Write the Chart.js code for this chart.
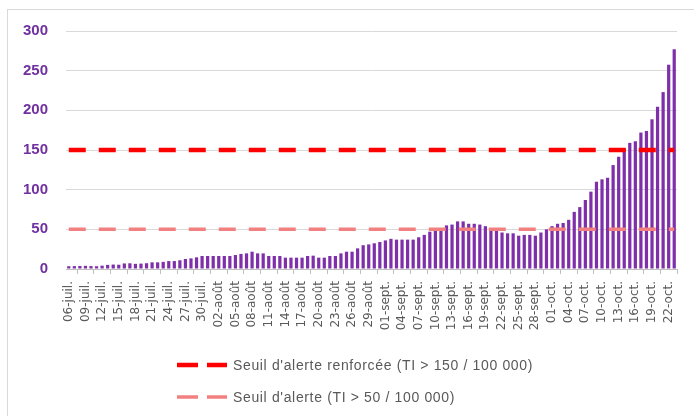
<!DOCTYPE html>
<html>
<head>
<script src="https://cdn.jsdelivr.net/npm/chart.js@4.4.1/dist/chart.umd.min.js"></script>
<style>
    body { margin: 0; background: #fff; }
    #frame {
        position: absolute; left: 7px; top: 9px;
        width: 700px; height: 420px;
        border: 1px solid #d9d9d9;
    }
    #chart-div {
        position: absolute; left: 0; top: 0;
        width: 694px; height: 416px;
    }
    .leg {
        position: absolute; left: 177px;
        font-family: "Liberation Sans", sans-serif;
        font-size: 14px; letter-spacing: 0.65px; color: #595959;
        display: flex; align-items: center;
    }
    .leg svg { margin-right: 6px; }
</style>
</head>
<body>
<div id="frame"></div>
<div id="chart-div"><canvas id="chart"></canvas></div>
<div class="leg" style="top:357px">
    <svg width="50" height="6"><line x1="0" y1="3" x2="50" y2="3" stroke="#ff0000" stroke-width="4.5" stroke-dasharray="21 9"/></svg>
    Seuil d'alerte renforcée (TI &gt; 150 / 100 000)
</div>
<div class="leg" style="top:389px">
    <svg width="50" height="6"><line x1="0" y1="3" x2="50" y2="3" stroke="#f28080" stroke-width="3.5" stroke-dasharray="21 9"/></svg>
    Seuil d'alerte (TI &gt; 50 / 100 000)
</div>
<script>
// jours du 06-juil. au 23-oct.
const months = [['juil.', 6, 31], ['août', 1, 31], ['sept.', 1, 30], ['oct.', 1, 23]];
const labels = [];
months.forEach(m => {
    for (let d = m[1]; d <= m[2]; d++) {
        labels.push((d < 10 ? '0' : '') + d + '-' + m[0]);
    }
});

// taux d'incidence
const incidence = [
    3.5, 3.6, 3.8, 4, 3.7, 3.5, 4.2,
    5.2, 5.6, 5.4,
    7, 7.2, 6.5, 6.8, 7.3,
    8.4, 8.4, 9, 10, 10, 11,
    12.6, 13.4, 14.7, 16.4, 16.4, 16.4,
    16.4, 16.4, 16.4, 17.6, 19, 19.7, 21.8,
    19.7, 19.7, 16.4, 16.4, 16.4,
    14.3, 14.3, 14.3, 14.3, 16.4, 16.8, 14.3, 14.3, 16.4, 16.4,
    19.7, 21.8, 21.8, 26, 30, 31, 32.4, 34,
    36, 38, 37, 37, 37, 37,
    40, 43, 47, 50, 50, 55, 56, 60, 60,
    57, 57, 56, 54, 51, 49, 46, 45, 45, 42, 43, 43, 42, 46, 50,
    54, 57, 58, 62, 72, 78, 87,
    97.5, 110, 113, 115, 131, 141.5, 152, 159, 161, 172, 174, 188.7, 204.6, 223, 257.5, 277
];

const seuilRenforce = 150;
const seuil = 50;
const yTicks = [0, 50, 100, 150, 200, 250, 300];

const ctx = document.getElementById('chart').getContext('2d');
new Chart(ctx, {
    type: 'bar',
    data: {
        labels: labels,
        datasets: [{
            type: 'line',
            label: "Seuil d'alerte renforcée (TI > 150 / 100 000)",
            data: labels.map(() => seuilRenforce),
            borderColor: '#ff0000',
            borderWidth: 4.5,
            borderDash: [17, 13],
            pointRadius: 0,
            order: 0
        }, {
            type: 'line',
            label: "Seuil d'alerte (TI > 50 / 100 000)",
            data: labels.map(() => seuil),
            borderColor: '#f28080',
            borderWidth: 3.5,
            borderDash: [17, 13],
            pointRadius: 0,
            order: 0
        }, {
            label: 'Taux',
            data: incidence,
            backgroundColor: '#7e2fa9',
            barPercentage: 0.58,
            categoryPercentage: 1,
            order: 1
        }]
    },
    options: {
        responsive: true,
        maintainAspectRatio: false,
        animation: false,
        layout: { padding: { left: 8, right: 17, top: 31, bottom: 0 } },
        plugins: { legend: { display: false }, tooltip: { enabled: false } },
        scales: {
            x: {
                afterFit: s => { s.height = 147; },
                border: { color: '#bfbfbf' },
                grid: { drawOnChartArea: false, tickLength: 5, color: '#bfbfbf' },
                ticks: {
                    autoSkip: false,
                    minRotation: 90,
                    maxRotation: 90,
                    padding: 7,
                    color: '#595959',
                    font: { family: 'DejaVu Sans', size: 12 },
                    callback: function (v, i) { return i % 3 === 0 ? labels[i] : null; }
                }
            },
            y: {
                min: 0,
                max: 300,
                afterFit: s => { s.width = 58; },
                afterBuildTicks: s => { s.ticks = yTicks.map(v => ({ value: v })); },
                border: { display: false },
                grid: { color: '#d9d9d9', drawTicks: false },
                ticks: {
                    padding: 18,
                    color: '#7030a0',
                    font: { family: 'Liberation Sans', size: 15, weight: 'bold' }
                }
            }
        }
    }
});
</script>
</body>
</html>
